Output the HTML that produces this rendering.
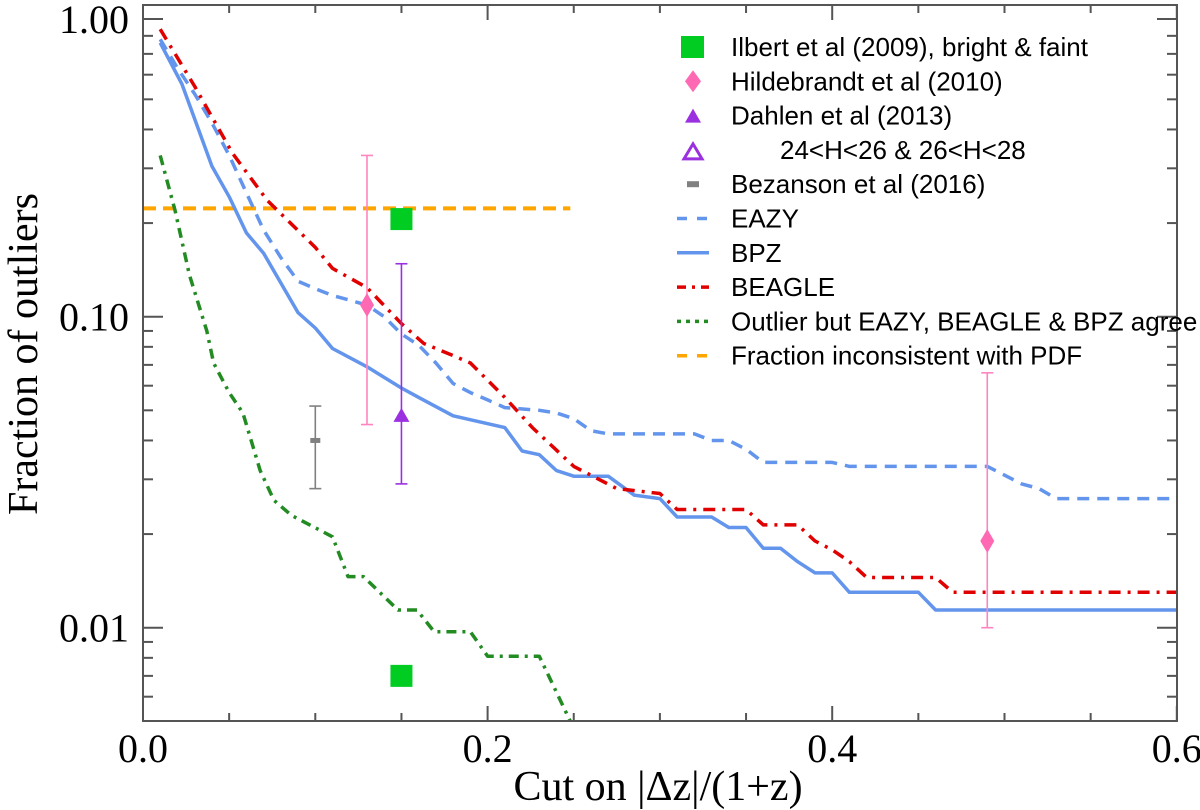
<!DOCTYPE html>
<html><head><meta charset="utf-8"><style>
html,body{margin:0;padding:0;background:#fff;}
svg{display:block;}
</style></head><body>
<svg id="chart" width="1200" height="810" xmlns="http://www.w3.org/2000/svg">
<g id="plot"></g>
<g id="axes"></g>
<g id="legend"></g>
</svg>
<script>
// ---- data ----
const eazyX = [0.01,0.02,0.03,0.04,0.05,0.06,0.07,0.08,0.09,0.10,0.11,0.12,0.13,0.14,0.15,0.16,0.17,0.18,0.19,0.20,0.21,0.23,0.24,0.25,0.26,0.27,0.32,0.33,0.34,0.35,0.36,0.40,0.41,0.49,0.51,0.52,0.53,0.60];
const eazyY = [0.78,0.63,0.52,0.42,0.33,0.25,0.19,0.155,0.13,0.123,0.117,0.113,0.109,0.10,0.088,0.081,0.071,0.061,0.057,0.054,0.051,0.05,0.049,0.047,0.043,0.042,0.042,0.040,0.040,0.0375,0.034,0.034,0.033,0.033,0.029,0.028,0.026,0.026];
const bpzX = [0.01,0.0226,0.04,0.05,0.06,0.07,0.09,0.10,0.11,0.13,0.15,0.16,0.18,0.21,0.22,0.23,0.24,0.25,0.27,0.285,0.30,0.31,0.33,0.34,0.35,0.36,0.37,0.38,0.39,0.40,0.41,0.45,0.46,0.60];
const bpzY = [0.76,0.56,0.305,0.243,0.186,0.16,0.103,0.092,0.079,0.069,0.059,0.055,0.048,0.044,0.037,0.036,0.032,0.0307,0.0307,0.0267,0.026,0.0227,0.0227,0.021,0.021,0.018,0.018,0.0163,0.015,0.015,0.013,0.013,0.0114,0.0114];
const beagleX = [0.01,0.03,0.052,0.072,0.10,0.11,0.13,0.15,0.163,0.18,0.19,0.21,0.226,0.25,0.275,0.30,0.31,0.35,0.36,0.38,0.39,0.40,0.41,0.42,0.46,0.47,0.60];
const beagleY = [0.84,0.55,0.335,0.237,0.167,0.143,0.124,0.095,0.082,0.075,0.071,0.055,0.044,0.033,0.028,0.027,0.024,0.024,0.0214,0.0214,0.019,0.0178,0.0163,0.0145,0.0145,0.013,0.013];
const agreeX = [0.01,0.0186,0.027,0.037,0.041,0.05,0.058,0.068,0.076,0.086,0.11,0.119,0.128,0.148,0.159,0.169,0.19,0.20,0.23,0.248];
const agreeY = [0.33,0.22,0.136,0.09,0.071,0.057,0.049,0.032,0.0257,0.023,0.0196,0.0146,0.0146,0.0114,0.0114,0.0097,0.0097,0.0081,0.0081,0.005];
const pdfFrac = 0.223, pdfXEnd = 0.248;
const ilbertX = [0.15,0.15], ilbertY = [0.206,0.0070];
const hildX = [0.13,0.49], hildY = [0.109,0.019], hildLo = [0.045,0.010], hildHi = [0.33,0.066];
const dahlenX = [0.15], dahlenY = [0.048], dahlenLo = [0.029], dahlenHi = [0.148];
const bezX = [0.10], bezY = [0.040], bezLo = [0.028], bezHi = [0.0516];
const xTickVals = [0.0,0.2,0.4,0.6];
const xTickLabels = ["0.0","0.2","0.4","0.6"];

// ---- scales ----
const L=143,R=1177,T=5,B=721;
const X = v => L + v*1723;
const Y = v => 316.7 - 311*Math.log10(v/0.1);
const NS="http://www.w3.org/2000/svg";
function mk(tag, attrs, parent){const e=document.createElementNS(NS,tag);for(const k in attrs)e.setAttribute(k,attrs[k]);parent.appendChild(e);return e;}
const plot=document.getElementById('plot'), axes=document.getElementById('axes'), legend=document.getElementById('legend');

const cp=mk('clipPath',{id:'clip'},plot);
mk('rect',{x:L,y:T,width:R-L,height:B-T},cp);
const g=mk('g',{'clip-path':'url(#clip)'},plot);

function line(xs,ys,style,name){
  const d=xs.map((x,i)=>(i?'L':'M')+X(x).toFixed(1)+','+Y(ys[i]).toFixed(1)).join(' ');
  const p=mk('path',Object.assign({d:d,fill:'none','stroke-linejoin':'round'},style),g);
  
  
}
const orange=mk('line',{x1:X(0),x2:X(pdfXEnd),y1:Y(pdfFrac),y2:Y(pdfFrac),stroke:'#FFA500','stroke-width':4,'stroke-dasharray':'13 7'},g);


line(agreeX,agreeY,{stroke:'#228B22','stroke-width':3.5,'stroke-dasharray':'10 6 3 6'},'agree-outlier-line');
line(eazyX,eazyY,{stroke:'#6495ED','stroke-width':3.5,'stroke-dasharray':'12 8'},'eazy-line');
line(bpzX,bpzY,{stroke:'#6495ED','stroke-width':3.5},'bpz-line');
line(beagleX,beagleY,{stroke:'#E00000','stroke-width':3.5,'stroke-dasharray':'12 7 3 7'},'beagle-line');

function errbar(x,lo,hi,color,name){
  const eg=mk('g',{stroke:color,'stroke-width':1.6},g);
  
  
  mk('line',{x1:X(x),x2:X(x),y1:Y(lo),y2:Y(hi)},eg);
  mk('line',{x1:X(x)-6,x2:X(x)+6,y1:Y(lo),y2:Y(lo)},eg);
  mk('line',{x1:X(x)-6,x2:X(x)+6,y1:Y(hi),y2:Y(hi)},eg);
}
bezX.forEach((x,i)=>{errbar(x,bezLo[i],bezHi[i],'#808080','bezanson-errorbar');
  const r=mk('rect',{x:X(x)-5,y:Y(bezY[i])-2.5,width:10,height:5,fill:'#808080'},g);
  
  });
hildX.forEach((x,i)=>{errbar(x,hildLo[i],hildHi[i],'#FF85C0','hildebrandt-errorbar');
  const cx=X(x),cy=Y(hildY[i]);
  const p=mk('polygon',{points:`${cx},${cy-12} ${cx+7},${cy} ${cx},${cy+12} ${cx-7},${cy}`,fill:'#FF69B4'},g);
  
  });
dahlenX.forEach((x,i)=>{errbar(x,dahlenLo[i],dahlenHi[i],'#9B30E0','dahlen-errorbar');
  const cx=X(x),cy=Y(dahlenY[i]);
  const p=mk('polygon',{points:`${cx},${cy-8} ${cx+8},${cy+6} ${cx-8},${cy+6}`,fill:'#9B30E0'},g);
  
  });
ilbertX.forEach((x,i)=>{
  const r=mk('rect',{x:X(x)-11,y:Y(ilbertY[i])-11,width:22,height:22,fill:'#00CC22'},g);
  
  });

// ---- axes ----
const ax={stroke:'#555','stroke-width':2};
mk('rect',{x:L,y:T,width:R-L,height:B-T,fill:'none',stroke:'#555','stroke-width':2},axes);
for(let k=0;k<=12;k++){const v=k*0.05,x=X(v),len=(k%4===0)?15:8;
  mk('line',Object.assign({x1:x,x2:x,y1:B,y2:B-len},ax),axes);
  mk('line',Object.assign({x1:x,x2:x,y1:T,y2:T+len},ax),axes);}
const yMinor=[0.006,0.007,0.008,0.009,0.02,0.03,0.04,0.05,0.06,0.07,0.08,0.09,0.2,0.3,0.4,0.5,0.6,0.7,0.8];
yMinor.forEach(v=>{const y=Y(v);mk('line',Object.assign({x1:L,x2:L+10,y1:y,y2:y},ax),axes);mk('line',Object.assign({x1:R,x2:R-10,y1:y,y2:y},ax),axes);});
[[19,'1.00'],[Y(0.1),'0.10'],[Y(0.01),'0.01']].forEach(([y,t])=>{
  mk('line',Object.assign({x1:L,x2:L+20,y1:y,y2:y},ax),axes);mk('line',Object.assign({x1:R,x2:R-20,y1:y,y2:y},ax),axes);
  const tx=mk('text',{x:129,y:y+14,'text-anchor':'end','font-family':'Liberation Serif, serif','font-size':40},axes);tx.textContent=t;
  
  });
xTickVals.forEach((v,i)=>{const tx=mk('text',{x:X(v),y:762,'text-anchor':'middle','font-family':'Liberation Serif, serif','font-size':40},axes);tx.textContent=xTickLabels[i];
  
  });
const xt=mk('text',{x:658,y:800,'text-anchor':'middle','font-family':'Liberation Serif, serif','font-size':42},axes);xt.textContent='Cut on |Δz|/(1+z)';


const yt=mk('text',{x:0,y:0,transform:'translate(37,354) rotate(-90)','text-anchor':'middle','font-family':'Liberation Serif, serif','font-size':42},axes);yt.textContent='Fraction of outliers';



// ---- legend ----
const labels=["Ilbert et al (2009), bright & faint","Hildebrandt et al (2010)","Dahlen et al (2013)","24<H<26 & 26<H<28","Bezanson et al (2016)","EAZY","BPZ","BEAGLE","Outlier but EAZY, BEAGLE & BPZ agree","Fraction inconsistent with PDF"];
const sx=693;
labels.forEach((t,i)=>{
  const y=47+i*34.3;
  const eg=mk('g',{},legend);
  
  
  if(i===0) mk('rect',{x:sx-12,y:y-11,width:23,height:22,fill:'#00CC22'},eg);
  if(i===1) mk('polygon',{points:`${sx},${y-11} ${sx+8},${y} ${sx},${y+11} ${sx-8},${y}`,fill:'#FF69B4'},eg);
  if(i===2) mk('polygon',{points:`${sx},${y-7} ${sx+8},${y+7} ${sx-8},${y+7}`,fill:'#9B30E0'},eg);
  if(i===3) mk('polygon',{points:`${sx},${y-6} ${sx+9},${y+9} ${sx-9},${y+9}`,fill:'none',stroke:'#9B30E0','stroke-width':3},eg);
  if(i===4) mk('rect',{x:sx-6,y:y-3,width:12,height:6,fill:'#808080'},eg);
  if(i===5) mk('line',{x1:sx-16,x2:sx+16,y1:y,y2:y,stroke:'#6495ED','stroke-width':3.5,'stroke-dasharray':'10 10'},eg);
  if(i===6) mk('line',{x1:sx-16,x2:sx+16,y1:y,y2:y,stroke:'#6495ED','stroke-width':3.5},eg);
  if(i===7) mk('line',{x1:sx-16,x2:sx+16,y1:y,y2:y,stroke:'#E00000','stroke-width':3.5,'stroke-dasharray':'9 6 3 6'},eg);
  if(i===8) mk('line',{x1:sx-16,x2:sx+16,y1:y,y2:y,stroke:'#228B22','stroke-width':3.5,'stroke-dasharray':'4 5'},eg);
  if(i===9) mk('line',{x1:sx-16,x2:sx+16,y1:y,y2:y,stroke:'#FFA500','stroke-width':3.5,'stroke-dasharray':'10 10'},eg);
  const tx=mk('text',{x:i===3?780:731,y:y+9,'font-family':'Liberation Sans, sans-serif','font-size':26},eg);
  tx.textContent=t;
});
</script>
</body></html>
